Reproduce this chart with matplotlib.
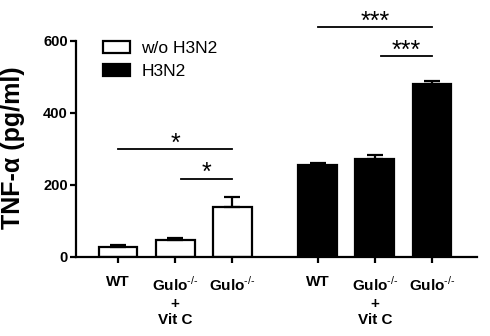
#!/usr/bin/env python3
import matplotlib
matplotlib.use("Agg")
import matplotlib.pyplot as plt
from matplotlib.patches import Patch
import numpy as np

plt.rcParams['font.family'] = ['Liberation Sans', 'DejaVu Sans']
plt.rcParams['mathtext.fontset'] = 'custom'
plt.rcParams['mathtext.rm'] = 'Liberation Sans'
plt.rcParams['mathtext.bf'] = 'Liberation Sans:bold'

# data
gulo = r"Gulo$^{\text{-/-}}$"
tick_labels = ["WT", gulo + "\n+\nVit C", gulo,
               "WT", gulo + "\n+\nVit C", gulo]
wo_mean = [27, 47, 140]
wo_err = [6, 6, 27]
h3n2_mean = [255, 272, 480]
h3n2_err = [6, 10, 8]
series_names = ["w/o H3N2", "H3N2"]

# (x0, x1, y, label) for significance brackets
sig_lines = [(0, 2, 300, "*"), (1.1, 2, 218, "*"),
             (3.5, 5.5, 640, "***"), (4.6, 5.5, 558, "***")]

x_wo = np.array([0, 1, 2])
x_h3 = np.array([3.5, 4.5, 5.5])

fig = plt.figure(figsize=(4.9, 3.36), dpi=100)
ax = fig.add_axes([76 / 490, 79 / 336, 401 / 490, 244.8 / 336])

lw = 1.6
ax.bar(x_wo, wo_mean, width=0.68, color='white', edgecolor='black',
       linewidth=lw, zorder=2)
ax.bar(x_h3, h3n2_mean, width=0.68, color='black', edgecolor='black',
       linewidth=lw, zorder=2)
ax.errorbar(x_wo, wo_mean, yerr=[np.zeros(3), wo_err], fmt='none',
            ecolor='black', elinewidth=lw, capsize=5.5, capthick=lw, zorder=3)
ax.errorbar(x_h3, h3n2_mean, yerr=[np.zeros(3), h3n2_err], fmt='none',
            ecolor='black', elinewidth=lw, capsize=5.5, capthick=lw, zorder=3)

for x0, x1, y, s in sig_lines:
    ax.plot([x0, x1], [y, y], color='black', lw=1.3, clip_on=False)
    ax.text((x0 + x1) / 2, y - 5, s, ha='center', va='baseline',
            fontsize=18, clip_on=False)

ax.set_xlim(-0.737, 6.29)
ax.set_ylim(0, 680)
ax.set_yticks([0, 200, 400, 600])
ax.set_xticks(np.concatenate([x_wo, x_h3]))
ax.set_xticklabels(tick_labels, fontsize=11, fontweight='bold',
                   linespacing=1.26, va='top')
for t in ax.get_yticklabels():
    t.set_fontsize(10.5)
    t.set_fontweight('bold')

ax.spines['top'].set_visible(False)
ax.spines['right'].set_visible(False)
ax.spines['left'].set_bounds(0, 600)
ax.spines['left'].set_linewidth(lw)
ax.spines['bottom'].set_linewidth(lw)
ax.tick_params(axis='both', direction='out', length=4, width=lw)
ax.tick_params(axis='x', pad=9)
ax.tick_params(axis='y', pad=2)

fig.text(13 / 490, 1 - 147.5 / 336, "TNF-α (pg/ml)", rotation=90,
         ha='center', va='center', fontsize=18, fontweight='bold')

handles = [Patch(facecolor='white', edgecolor='black', linewidth=lw),
           Patch(facecolor='black', edgecolor='black', linewidth=lw)]
ax.legend(handles, series_names, loc='upper left',
          bbox_to_anchor=(0.067, 0.882), frameon=False,
          fontsize=12.5, handlelength=1.55, handleheight=0.65,
          labelspacing=0.45, handletextpad=0.67, borderaxespad=0,
          borderpad=0)

fig.savefig("out.png", dpi=100)
